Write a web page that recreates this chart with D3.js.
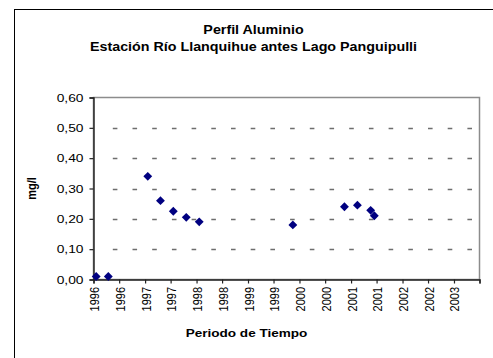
<!DOCTYPE html>
<html>
<head>
<meta charset="utf-8">
<script src="https://cdn.jsdelivr.net/npm/d3@7"></script>
<style>
  html, body { margin: 0; padding: 0; background: #fff; }
  svg { display: block; font-family: Arial, "Liberation Sans", sans-serif; }
</style>
</head>
<body>
<svg id="chart" width="493" height="358"></svg>
<script>
// Aluminium profile, sampling dates and concentrations (mg/l)
const sampleDates = [
  "1996-01-20", "1996-04-15", "1997-01-20", "1997-04-20", "1997-07-20",
  "1997-10-20", "1998-01-20", "1999-11-15", "2000-11-15", "2001-02-15",
  "2001-05-20", "2001-06-15"
];
const aluminio = [0.01, 0.01, 0.34, 0.26, 0.225, 0.205, 0.19, 0.18, 0.24, 0.245, 0.228, 0.21];

// Half-year axis labels (the last tick carries no label)
const xTickLabels = ["1996", "1996", "1997", "1997", "1998", "1998", "1999", "1999",
                     "2000", "2000", "2001", "2001", "2002", "2002", "2003"];
const yTickValues = [0, 0.1, 0.2, 0.3, 0.4, 0.5, 0.6];

const titleLines = ["Perfil Aluminio", "Estación Río Llanquihue antes Lago Panguipulli"];
const xTitle = "Periodo de Tiempo";
const yTitle = "mg/l";

const parse = d3.timeParse("%Y-%m-%d");
const points = sampleDates.map((d, i) => ({ date: parse(d), value: aluminio[i] }));

const svg = d3.select("#chart");
const plot = { left: 93.5, right: 479.5, top: 97.5, bottom: 279.5 };

const x = d3.scaleTime()
  .domain([parse("1996-01-01"), parse("2003-07-01")])
  .range([plot.left, plot.right]);
const y = d3.scaleLinear().domain([0, 0.6]).range([plot.bottom, plot.top]);

// Text helper: sx widens the glyphs horizontally on screen
function label(g, txt, px, py, opts = {}) {
  const sx = opts.sx || 1.15;
  const rot = opts.rotate ? " rotate(-90) scale(1," + sx + ")" : " scale(" + sx + ",1)";
  return g.append("text")
    .attr("transform", "translate(" + px + "," + py + ")" + rot)
    .attr("text-anchor", opts.anchor || "middle")
    .attr("font-size", opts.size || 11)
    .attr("font-weight", opts.bold ? "bold" : "normal")
    .attr("fill", "#000")
    .text(txt);
}

// Outer chart frame
svg.append("rect")
  .attr("x", 14.5).attr("y", 9.5).attr("width", 520).attr("height", 400)
  .attr("fill", "none").attr("stroke", "#000").attr("stroke-width", 1);

// Titles
label(svg, titleLines[0], 253.5, 34, { size: 13, bold: true, sx: 1.1 });
label(svg, titleLines[1], 253.5, 51, { size: 13, bold: true, sx: 1.1 });

// Plot frame
svg.append("rect")
  .attr("x", plot.left).attr("y", plot.top)
  .attr("width", plot.right - plot.left).attr("height", plot.bottom - plot.top)
  .attr("fill", "none").attr("stroke", "#8c8c8c").attr("stroke-width", 1.5);

// Dashed horizontal gridlines
svg.append("g").selectAll("line")
  .data(yTickValues.filter(v => v > 0 && v < 0.6))
  .join("line")
  .attr("x1", plot.left + 19.3).attr("x2", plot.right - 4)
  .attr("y1", d => Math.round(y(d)) + 0.5).attr("y2", d => Math.round(y(d)) + 0.5)
  .attr("stroke", "#6e6e6e").attr("stroke-width", 1.4)
  .attr("stroke-dasharray", "4.6,15.1");

// Y axis
const yAxis = svg.append("g")
  .attr("transform", "translate(" + plot.left + ",0)")
  .call(d3.axisLeft(y).tickValues(yTickValues).tickSize(4).tickFormat(() => ""));
yAxis.select(".domain").attr("stroke", "#222").attr("stroke-width", 1.4);
yAxis.selectAll(".tick line").attr("stroke", "#222").attr("stroke-width", 1.2);
const fmt = d3.format(".2f");
yTickValues.forEach(v => {
  label(svg, fmt(v).replace(".", ","), 83.5, y(v) + 4, { size: 11.5, anchor: "end", sx: 1.2 });
});

// X axis
const xTicks = d3.timeMonth.every(6).range(parse("1996-01-01"), parse("2003-07-02"));
const xAxis = svg.append("g")
  .attr("transform", "translate(0," + plot.bottom + ")")
  .call(d3.axisBottom(x).tickValues(xTicks).tickSize(4).tickFormat(() => ""));
xAxis.select(".domain").attr("stroke", "#222").attr("stroke-width", 1.4);
xAxis.selectAll(".tick line").attr("stroke", "#222").attr("stroke-width", 1.2);
xTickLabels.forEach((t, i) => {
  label(svg, t, x(xTicks[i]) + 5.5, 287, { size: 11, anchor: "end", rotate: true, sx: 1.1 });
});

// Axis titles
label(svg, xTitle, 246.5, 337, { size: 11.5, bold: true, sx: 1.18 });
label(svg, yTitle, 36, 188.5, { size: 11, bold: true, rotate: true });

// Diamond markers
const diamond = d3.symbol().type(d3.symbolDiamond2).size(50);
svg.append("g").selectAll("path")
  .data(points)
  .join("path")
  .attr("d", diamond)
  .attr("transform", d => "translate(" + x(d.date) + "," + y(d.value) + ")")
  .attr("fill", "#000080");
</script>
</body>
</html>
